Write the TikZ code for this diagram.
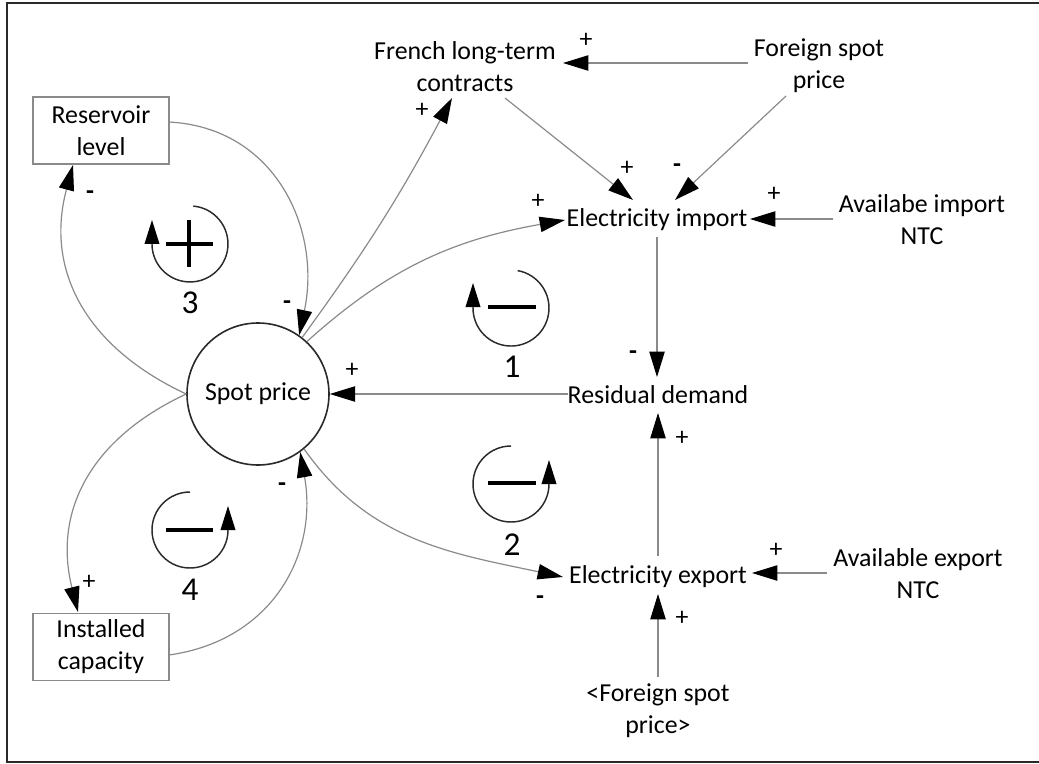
\documentclass[tikz,border=0pt]{standalone}
\usepackage{fontspec}
\setmainfont{Carlito}
\usetikzlibrary{arrows.meta,calc}
\definecolor{linkgray}{HTML}{8A8A8A}
\definecolor{inkdark}{HTML}{2A2A2A}

\begin{document}
\begin{tikzpicture}[x=0.75pt,y=0.75pt,
  every node/.style={font=\fontsize{19.4}{24}\selectfont, inner sep=2pt},
  txt/.style={align=center},
  tipshape/.style={-{Triangle[length=19pt,width=11.5pt,color=black]}},
  conn/.style={draw=linkgray, line width=0.9pt, tipshape},
  sgn/.style={inner sep=0pt},
  neg/.style={inner sep=0pt, font=\fontsize{19.4}{24}\selectfont\bfseries},
  stock/.style={draw=linkgray, line width=1.1pt, minimum width=102pt,
                minimum height=50pt, align=center, inner sep=0pt},
  hub/.style={circle, draw=inkdark, line width=1.2pt, minimum size=106.5pt, inner sep=0pt},
  loopln/.style={draw=inkdark, line width=1.1pt, -{Triangle[length=18pt,width=11pt,color=black]}},
  loopsign/.style={draw=black, line width=2.4pt},
  loopnum/.style={font=\fontsize{25}{30}\selectfont, inner sep=0pt},
  frameln/.style={draw=inkdark, line width=2pt}
]
\useasboundingbox (0,0) rectangle (1039,-764);

% outer frame (open on the right)
\draw[frameln] (1039,-3) -- (7,-3) -- (7,-762) -- (1039,-762);

% variables
\node[txt] (fr)   at (465,-67)  {French long-term\\contracts};
\node[txt] (fsp)  at (819,-66)  {Foreign spot\\price};
\node      (ei)   at (657,-220) {Electricity import};
\node[txt] (ain)  at (922,-220) {Availabe import\\NTC};
\node      (rd)   at (658,-395) {Residual demand};
\node      (ee)   at (658,-577) {Electricity export};
\node[txt] (aen)  at (918,-574) {Available export\\NTC};
\node[txt] (fsp2) at (658,-711) {\textless Foreign spot\\price\textgreater};
\node[hub] (sp)   at (258,-394) {Spot price};
\node[stock] (rl) at (101,-130.5) {Reservoir\\level};
\node[stock] (ic) at (101,-647) {Installed\\capacity};

% causal links
\draw[conn] ($(fsp)+(-71,3)$) -- ($(fr)+(98,4)$);
\draw[conn] ($(fr)+(40,-31)$) -- ($(ei)+(-24,20)$);
\draw[conn] ($(fsp)+(-33,-30)$) -- ($(ei)+(18,20)$);
\draw[conn] ($(ain)+(-89,1)$) -- ($(ei)+(93,1)$);
\draw[conn] ($(ei)+(0,-17)$) -- ($(rd)+(-1,18)$);
\draw[conn] (sp.47) to[out=42, in=190] ($(ei)+(-92,0)$);
\draw[conn] (sp.52) to[bend right=4] ($(fr)+(-13,-31)$);
\draw[conn] ($(rd)+(-90,1)$) -- (sp.east);
\draw[conn] ($(ee)+(0,21)$) -- ($(rd)+(0,-18)$);
\draw[conn] ($(aen)+(-91,1)$) -- ($(ee)+(94,4)$);
\draw[conn] ($(fsp2)+(0,34)$) -- ($(ee)+(0,-17)$);
\draw[conn] (sp.-50) to[out=-55, in=168] ($(ee)+(-95,0)$);
\draw[conn] ($(rl)+(68,8.5)$) to[out=-3, in=78, looseness=1.1] (sp.55);
\draw[conn] (sp.west) to[out=155, in=255, looseness=1.1] ($(rl)+(-28,-34.5)$);
\draw[conn] (sp.west) to[out=205, in=104, looseness=1.1] ($(ic)+(-23,35)$);
\draw[conn] ($(ic)+(68,-8)$) to[out=8, in=280, looseness=1.1] (sp.-54);

% link polarities
\node[sgn] (p1)  at (586,-40)  {+};
\node[sgn] (p2)  at (627,-168) {+};
\node[neg] (p3)  at (677,-168) {-};
\node[sgn] (p4)  at (774,-194) {+};
\node[neg] (p5)  at (633,-355) {-};
\node[sgn] (p6)  at (538,-201) {+};
\node[sgn] (p7)  at (422,-110) {+};
\node[sgn] (p8)  at (352,-370) {+};
\node[sgn] (p9)  at (682,-438) {+};
\node[sgn] (p10) at (776,-550) {+};
\node[sgn] (p11) at (682,-618) {+};
\node[neg] (p12) at (540,-600) {-};
\node[neg] (p13) at (287,-305) {-};
\node[neg] (p14) at (90,-195)  {-};
\node[sgn] (p15) at (89,-582)  {+};
\node[neg] (p16) at (282,-487) {-};

% loop 3 (reinforcing)
\draw[loopln] (193.3,-206.1) arc[start angle=85, end angle=-180, radius=38] -- ++(0,24);
\draw[loopsign] (166,-244) -- (213,-244) (189,-220) -- (189,-267);
\node[loopnum] (n3) at (190,-303) {3};

% loop 1 (balancing)
\draw[loopln] (517.6,-270.6) arc[start angle=80, end angle=-180, radius=38] -- ++(0,25);
\draw[loopsign] (488,-307) -- (536,-307);
\node[loopnum] (n1) at (512,-367) {1};

% loop 2 (balancing)
\draw[loopln] (511,-446) arc[start angle=90, end angle=360, radius=38] -- ++(0,24);
\draw[loopsign] (488,-483) -- (536,-483);
\node[loopnum] (n2) at (512,-545) {2};

% loop 4 (balancing)
\draw[loopln] (190,-492) arc[start angle=90, end angle=360, radius=38] -- ++(0,24);
\draw[loopsign] (166,-530) -- (213,-530);
\node[loopnum] (n4) at (190,-590) {4};
\end{tikzpicture}
\end{document}
